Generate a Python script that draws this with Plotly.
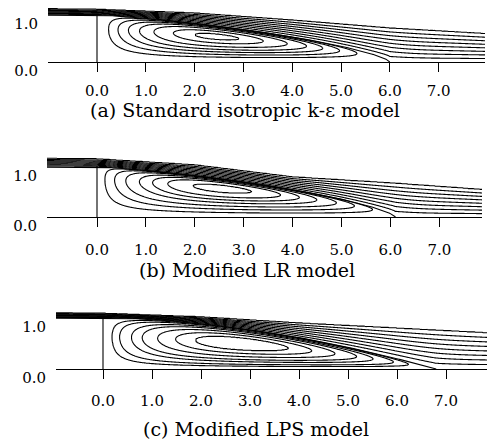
import numpy as np
import plotly.graph_objects as go

# ---------------- data ----------------
panel_titles = ["(a) Standard isotropic k-\u03b5 model",
                "(b) Modified LR model",
                "(c) Modified LPS model"]
x_tick_values = [0, 1, 2, 3, 4, 5, 6, 7]
x_tick_labels = ["0.0", "1.0", "2.0", "3.0", "4.0", "5.0", "6.0", "7.0"]
y_tick_values = [0, 1]
y_tick_labels = ["0.0", "1.0"]

# reattachment length and eddy centre (in step heights)
reattachment_length = [6.0, 6.1, 6.8]
eddy_center_x = [2.45, 2.55, 2.80]
eddy_center_y = [0.54, 0.57, 0.50]

# height of the uppermost drawn streamline at a few stations
top_line_x = [-1.0, 0.0, 2.0, 4.0, 6.0, 8.0]
top_line_y_a = [1.13, 1.12, 1.04, 0.89, 0.72, 0.60]
top_line_y_b = [1.17, 1.16, 1.04, 0.80, 0.68, 0.54]
top_line_y_c = [1.10, 1.09, 1.02, 0.90, 0.80, 0.70]

# recirculation loops (fraction of peak |psi|), outermost -> innermost
loop_levels_a = [0.19, 0.33, 0.47, 0.60, 0.74, 0.88, 0.97]
loop_levels_b = [0.12, 0.26, 0.41, 0.57, 0.70, 0.82, 0.95]
loop_levels_c = [0.13, 0.23, 0.38, 0.50, 0.65, 0.79, 0.90]

# outer (through-flow) streamlines, fraction of the drawn band
outer_levels = [0.125, 0.25, 0.375, 0.5, 0.625, 0.75, 0.875, 1.0]

# shape of the dividing streamline h = (1 - (x/L)^p)^r
dividing_p = [1.3, 1.3, 1.8]
dividing_r = [0.7, 0.7, 1.0]

top_lines = [top_line_y_a, top_line_y_b, top_line_y_c]
loop_levels = [loop_levels_a, loop_levels_b, loop_levels_c]

# ---------------- layout geometry (pixels) ----------------
W, H = 491, 442
geom = [
    dict(x0=97, sx=48.8, left=48, right=485, y0=62, sy=47, top=2, tx=245, ty=110, so=6),
    dict(x0=97, sx=48.9, left=47, right=482, y0=217, sy=50, top=153, tx=247, ty=270, so=10),
    dict(x0=103, sx=49.0, left=56, right=487, y0=369, sy=51, top=305, tx=256, ty=429, so=9),
]
FONT = "DejaVu Serif"


def dividing_height(x, L, p, r):
    xi = np.clip(x / L, 0, 1)
    return np.where(x <= 0, 1.0, np.where(x >= L, 0.0, (1 - xi ** p) ** r))


def build_field(L, xc, yc, Tvals, p, r, s1=2.5, s2=2.0, n=4):
    xs = np.linspace(-1.2, 8.2, 471)
    ys = np.linspace(0.0, 1.36, 171)
    X, Y = np.meshgrid(xs, ys)
    h = dividing_height(xs, L, p, r)
    T = np.interp(xs, top_line_x, Tvals)
    sig = 25
    k = np.exp(-0.5 * (np.arange(-3 * sig, 3 * sig + 1) / sig) ** 2)
    k /= k.sum()
    hp = np.concatenate([np.full(3 * sig, h[0]), h, np.full(3 * sig, h[-1])])
    hb = np.convolve(hp, k, mode="valid")
    ps = np.linspace(0, 1, 401)
    w = (1 - ps) ** n
    G = np.zeros_like(X)
    for j in range(len(xs)):
        base = (1 - w) * hb[j] + w * h[j]
        yk = base + ps * (T[j] - base)
        yk = np.maximum.accumulate(yk)
        col = np.interp(ys, yk, ps)
        ab = ys > T[j]
        col[ab] = 1 + (ys[ab] - T[j])
        G[:, j] = col
    xic = xc / L
    hc = (1 - xic ** p) ** r
    zc = yc / hc
    a, b = xic * s1, (1 - xic) * s1
    c, d = zc * s2, (1 - zc) * s2
    Hx = np.broadcast_to(h[None, :], X.shape)
    inside = (X > 0) & (X < L) & (Y < Hx)
    XI = np.clip(X / L, 0, 1)
    ZE = np.clip(np.where(Hx > 1e-9, Y / np.maximum(Hx, 1e-9), 1.0), 0, 1)
    Pf = (XI / xic) ** a * ((1 - XI) / (1 - xic)) ** b
    Qf = (ZE / zc) ** c * ((1 - ZE) / (1 - zc)) ** d
    F = Pf * Qf
    Z = np.where(inside, -F, G)
    Z[(X < 0) & (Y < 1.0 - 1e-9)] = np.nan
    return xs, ys, Z


fig = go.Figure()
layout_axes = {}
annotations = []
for i in range(3):
    g = geom[i]
    L = reattachment_length[i]
    p, r = dividing_p[i], dividing_r[i]
    xs, ys, Z = build_field(L, eddy_center_x[i], eddy_center_y[i], top_lines[i], p, r)
    levels = sorted([-f for f in loop_levels[i]] + outer_levels)
    nodes = [-10.0] + levels + [10.0]
    idx = [-1.0] + list(range(len(levels))) + [float(len(levels))]
    Zt = np.interp(np.nan_to_num(Z, nan=0.0), nodes, idx)
    Zt[np.isnan(Z)] = np.nan
    Zt = np.round(Zt, 4)
    xa = "x" if i == 0 else f"x{i+1}"
    ya = "y" if i == 0 else f"y{i+1}"
    fig.add_trace(go.Contour(
        x=xs, y=ys, z=Zt, xaxis=xa, yaxis=ya,
        autocontour=False,
        contours=dict(coloring="lines", start=0, end=len(levels) - 1, size=1, showlabels=False),
        colorscale=[[0, "black"], [1, "black"]], showscale=False,
        line=dict(width=1.1, smoothing=1), connectgaps=False, hoverinfo="skip"))
    t = np.linspace(0, 1, 300)
    xd = np.concatenate([[-1.2], L * (1 - (1 - t) ** 2)])
    yd = dividing_height(xd, L, p, r)
    fig.add_trace(go.Scatter(x=xd, y=yd, mode="lines", line=dict(color="black", width=1.1),
                             xaxis=xa, yaxis=ya, hoverinfo="skip", showlegend=False))
    fig.add_trace(go.Scatter(x=[0, 0], y=[0, 1.02], mode="lines", line=dict(color="black", width=1.1),
                             xaxis=xa, yaxis=ya, hoverinfo="skip", showlegend=False))
    xr = [(g["left"] - g["x0"]) / g["sx"], (g["right"] - g["x0"]) / g["sx"]]
    yr = [0, (g["y0"] - g["top"]) / g["sy"]]
    key = "" if i == 0 else str(i + 1)
    layout_axes["xaxis" + key] = dict(
        domain=[g["left"] / W, g["right"] / W], range=xr, anchor=ya, automargin=False,
        showline=True, linecolor="black", linewidth=1, ticks="outside", ticklen=9,
        tickwidth=1, tickcolor="black", tickvals=x_tick_values, ticktext=x_tick_labels,
        tickfont=dict(family=FONT, size=15, color="black"), ticklabelstandoff=g["so"],
        showgrid=False, zeroline=False)
    layout_axes["yaxis" + key] = dict(
        domain=[1 - g["y0"] / H, 1 - g["top"] / H], range=yr, anchor=xa, automargin=False,
        showline=False, ticks="", tickvals=y_tick_values, ticktext=y_tick_labels,
        tickfont=dict(family=FONT, size=15, color="black"), ticklabelshift=9,
        ticklabelstandoff=9, showgrid=False, zeroline=False)
    annotations.append(dict(text=panel_titles[i], xref="paper", yref="paper",
                            x=g["tx"] / W, y=1 - g["ty"] / H, xanchor="center", yanchor="middle",
                            showarrow=False, font=dict(family=FONT, size=19, color="black")))

fig.update_layout(width=W, height=H, margin=dict(l=0, r=0, t=0, b=0, pad=0, autoexpand=False),
                  paper_bgcolor="white", plot_bgcolor="white", showlegend=False,
                  annotations=annotations, **layout_axes)
fig.write_html("out.html")
